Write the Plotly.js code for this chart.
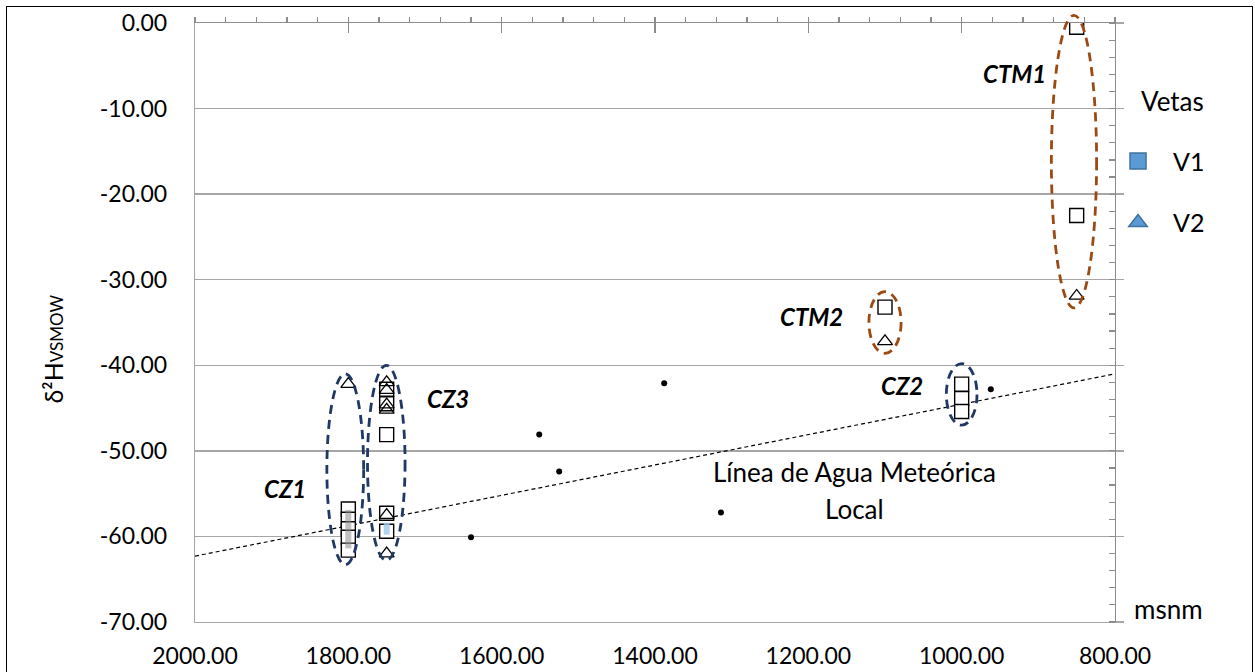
<!DOCTYPE html>
<html>
<head>
<meta charset="utf-8">
<script src="https://cdn.plot.ly/plotly-3.0.1.min.js"></script>
<style>
  html, body { margin: 0; padding: 0; background: #fff; }
  #wrap { position: relative; width: 1255px; height: 672px; overflow: hidden; }
  #chart { position: absolute; left: 0; top: 0; width: 1255px; height: 672px; }
  #frame { position: absolute; left: 6px; top: 6px; width: 1247px; height: 690px;
           border: 1.5px solid #000; box-sizing: border-box; pointer-events: none; }
</style>
</head>
<body>
<div id="wrap"><div id="chart"></div><div id="frame"></div></div>
<script>
// Vein V1 samples (squares): elevation (m a.s.l.) and δ2H (‰ VSMOW)
const v1Elev = [850, 850, 1100, 1000, 1000, 1000, 1800, 1800, 1800, 1800, 1800, 1750, 1750, 1750, 1750, 1750];
const v1D2H  = [-0.5, -22.5, -33.2, -42.2, -43.9, -45.4, -56.8, -58.0, -59.1, -60.1, -61.6, -42.8, -44.5, -48.1, -57.3, -59.4];

// Vein V2 samples (triangles)
const v2Elev = [850, 1100, 1800, 1750, 1750, 1750, 1750, 1750, 1750];
const v2D2H  = [-31.9, -37.2, -42.2, -42.0, -42.9, -44.6, -45.2, -57.5, -62.0];

// Local precipitation samples
const rainElev = [1640, 1551, 1525, 1388, 1314, 962];
const rainD2H  = [-60.1, -48.1, -52.4, -42.1, -57.2, -42.8];

// Local meteoric water line
const lmwlElev = [2000, 800];
const lmwlD2H  = [-62.3, -41.0];

// Overlapping-marker shading inside the CZ1 and CZ3 stacks
const cz1ShadeElev = [1800, 1800];
const cz1ShadeD2H  = [-56.9, -61.4];
const cz3ShadeElev = [1750, 1750];
const cz3ShadeD2H  = [-58.4, -59.8];

// Sample groups and the extent of the ellipse drawn round each
const groupNames   = ['CTM1', 'CTM2', 'CZ1', 'CZ2', 'CZ3'];
const groupElevLo  = [824, 1079, 1780, 980, 1726];
const groupElevHi  = [883, 1121, 1828, 1020, 1775];
const groupD2HLo   = [-33.3, -38.6, -63.3, -47.0, -62.8];
const groupD2HHi   = [0.9, -31.4, -41.0, -39.8, -40.0];
const groupColors  = ['#9c4a14', '#9c4a14', '#1f3864', '#1f3864', '#1f3864'];

// Group labels
const labelElev   = [887, 1152, 1853, 1048, 1700];
const labelD2H    = [-5.9, -34.3, -54.4, -42.35, -43.9];
const labelAnchor = ['right', 'right', 'right', 'right', 'left'];

// Meteoric line caption, one entry per line
const lmwlCaption     = ['Línea de Agua Meteórica', 'Local'];
const lmwlCaptionElev = [1140, 1140];
const lmwlCaptionD2H  = [-52.47, -56.8];

// Axis ticks
const xTickVals = [2000, 1800, 1600, 1400, 1200, 1000, 800];
const xTickText = ['2000.00', '1800.00', '1600.00', '1400.00', '1200.00', '1000.00', '800.00'];
const yTickVals = [0, -10, -20, -30, -40, -50, -60, -70];
const yTickText = ['0.00', '-10.00', '-20.00', '-30.00', '-40.00', '-50.00', '-60.00', '-70.00'];

const FONT = 'Lato, "Open Sans", sans-serif';
const GRID = '#a6a6a6';
const AXIS = '#8c8c8c';
const X_RANGE = [2000, 800];
const Y_RANGE = [-70, 0];

// ellipses use y-domain coordinates so the top of CTM1 can rise above the frame
function yDomain(v) { return (v - Y_RANGE[0]) / (Y_RANGE[1] - Y_RANGE[0]); }

const traces = [
  {
    x: lmwlElev, y: lmwlD2H, mode: 'lines', showlegend: false, hoverinfo: 'skip',
    line: { color: '#000', width: 1.2, dash: '4px,3px' }
  },
  {
    x: rainElev, y: rainD2H, mode: 'markers', showlegend: false,
    marker: { symbol: 'circle', size: 6, color: '#000' }
  },
  {
    x: v1Elev, y: v1D2H, mode: 'markers', name: 'V1', showlegend: false,
    marker: { symbol: 'square', size: 14, color: '#fff', line: { color: '#000', width: 1.4 } }
  },
  {
    x: cz1ShadeElev, y: cz1ShadeD2H, mode: 'lines', showlegend: false, hoverinfo: 'skip',
    line: { color: 'rgba(140,140,140,0.55)', width: 6 }
  },
  {
    x: cz3ShadeElev, y: cz3ShadeD2H, mode: 'lines', showlegend: false, hoverinfo: 'skip',
    line: { color: 'rgba(160,200,235,0.8)', width: 6 }
  },
  {
    x: v2Elev, y: v2D2H, mode: 'markers', name: 'V2', showlegend: false,
    marker: { symbol: 'triangle-up-open', size: 13, color: '#000', line: { color: '#000', width: 1.3 } }
  },
  // legend entries
  {
    x: [null], y: [null], mode: 'markers', name: 'V1', legendgroup: 'v1',
    marker: { symbol: 'square', size: 20, color: '#5b9bd5', line: { color: '#41719c', width: 1.5 } }
  },
  {
    x: [null], y: [null], mode: 'markers', name: 'V2', legendgroup: 'v2',
    marker: { symbol: 'triangle-up', size: 20, color: '#5b9bd5', line: { color: '#41719c', width: 1.5 } }
  },
  // empty traces so the tick-only frame axes are drawn
  { x: [null], y: [null], xaxis: 'x2', yaxis: 'y', showlegend: false, hoverinfo: 'skip' },
  { x: [null], y: [null], xaxis: 'x3', yaxis: 'y', showlegend: false, hoverinfo: 'skip' },
  { x: [null], y: [null], xaxis: 'x', yaxis: 'y2', showlegend: false, hoverinfo: 'skip' }
];

const shapes = groupNames.map((g, i) => ({
  type: 'circle', xref: 'x', yref: 'y domain', layer: 'above',
  x0: groupElevLo[i], x1: groupElevHi[i],
  y0: yDomain(groupD2HLo[i]), y1: yDomain(groupD2HHi[i]),
  line: { color: groupColors[i], width: 2.8, dash: '9px,6px' }
}));

const annotations = groupNames.map((g, i) => ({
  x: labelElev[i], y: labelD2H[i], xref: 'x', yref: 'y',
  text: '<b><i>' + g + '</i></b>', showarrow: false,
  xanchor: labelAnchor[i], yanchor: 'middle',
  font: { family: FONT, size: 24, color: '#000' }
}));
lmwlCaption.forEach((t, i) => annotations.push({
  x: lmwlCaptionElev[i], y: lmwlCaptionD2H[i], xref: 'x', yref: 'y',
  text: t, showarrow: false, xanchor: 'center', yanchor: 'middle',
  font: { family: FONT, size: 26, color: '#000' }
}));
annotations.push({
  x: 1.0185, y: 0.022, xref: 'paper', yref: 'paper',
  text: 'msnm', showarrow: false, xanchor: 'left', yanchor: 'middle',
  font: { family: FONT, size: 26, color: '#000' }
});
// legend heading
annotations.push({
  x: 1.0625, y: 0.869, xref: 'paper', yref: 'paper',
  text: 'Vetas', showarrow: false, xanchor: 'center', yanchor: 'middle',
  font: { family: FONT, size: 26, color: '#000' }
});
// vertical axis title
annotations.push({
  x: -0.1543, y: 0.455, xref: 'paper', yref: 'paper',
  text: 'δ²H<span style="font-size:17px">VSMOW</span>', showarrow: false, textangle: -90,
  xanchor: 'center', yanchor: 'middle',
  font: { family: FONT, size: 25, color: '#000' }
});

const layout = {
  width: 1255, height: 672,
  margin: { l: 195, r: 140, t: 23, b: 50, pad: 0 },
  paper_bgcolor: '#fff', plot_bgcolor: '#fff',
  font: { family: FONT, color: '#000' },
  showlegend: true,
  legend: {
    x: 0.987, xanchor: 'left', y: 0.8075, yanchor: 'top',
    bgcolor: 'rgba(0,0,0,0)', borderwidth: 0,
    font: { family: FONT, size: 25, color: '#000' },
    tracegroupgap: 26, itemsizing: 'trace', itemwidth: 60
  },
  xaxis: {
    range: X_RANGE, tickmode: 'array', tickvals: xTickVals, ticktext: xTickText,
    ticks: '', showline: true, linecolor: GRID, linewidth: 1.3,
    showgrid: false, zeroline: false, automargin: false,
    ticklabelstandoff: 13,
    tickfont: { family: FONT, size: 23, color: '#000' }
  },
  xaxis2: {
    overlaying: 'x', anchor: 'y', side: 'top', range: X_RANGE,
    showticklabels: false, showline: true, linecolor: AXIS, linewidth: 1.3,
    tickmode: 'linear', tick0: 800, dtick: 200,
    ticks: 'inside', ticklen: 10, tickcolor: AXIS, tickwidth: 1.2,
    minor: { ticks: 'outside', ticklen: 5, tick0: 800, dtick: 40, tickcolor: AXIS, tickwidth: 1.2, showgrid: false },
    showgrid: false, zeroline: false, automargin: false
  },
  xaxis3: {
    overlaying: 'x', anchor: 'y', side: 'top', range: X_RANGE,
    showticklabels: false, showline: false,
    tickmode: 'linear', tick0: 800, dtick: 200,
    ticks: 'outside', ticklen: 5, tickcolor: AXIS, tickwidth: 1.2,
    showgrid: false, zeroline: false, automargin: false
  },
  yaxis: {
    range: Y_RANGE, tickmode: 'array', tickvals: yTickVals, ticktext: yTickText,
    ticks: '', showline: true, linecolor: GRID, linewidth: 1.3,
    showgrid: true, gridcolor: GRID, gridwidth: 1.3, zeroline: false, automargin: false,
    ticklabelstandoff: 22,
    tickfont: { family: FONT, size: 23, color: '#000' }
  },
  yaxis2: {
    overlaying: 'y', anchor: 'x', side: 'right', range: Y_RANGE,
    showticklabels: false, showline: true, linecolor: AXIS, linewidth: 1.3,
    tickmode: 'linear', tick0: 0, dtick: 10,
    ticks: 'outside', ticklen: 8, tickcolor: GRID, tickwidth: 1.3,
    minor: { ticks: 'inside', ticklen: 6, tick0: 0, dtick: 2, tickcolor: AXIS, tickwidth: 1.2, showgrid: false },
    showgrid: false, zeroline: false, automargin: false
  },
  shapes: shapes,
  annotations: annotations
};

Plotly.newPlot('chart', traces, layout, { displayModeBar: false, staticPlot: true });
</script>
</body>
</html>
